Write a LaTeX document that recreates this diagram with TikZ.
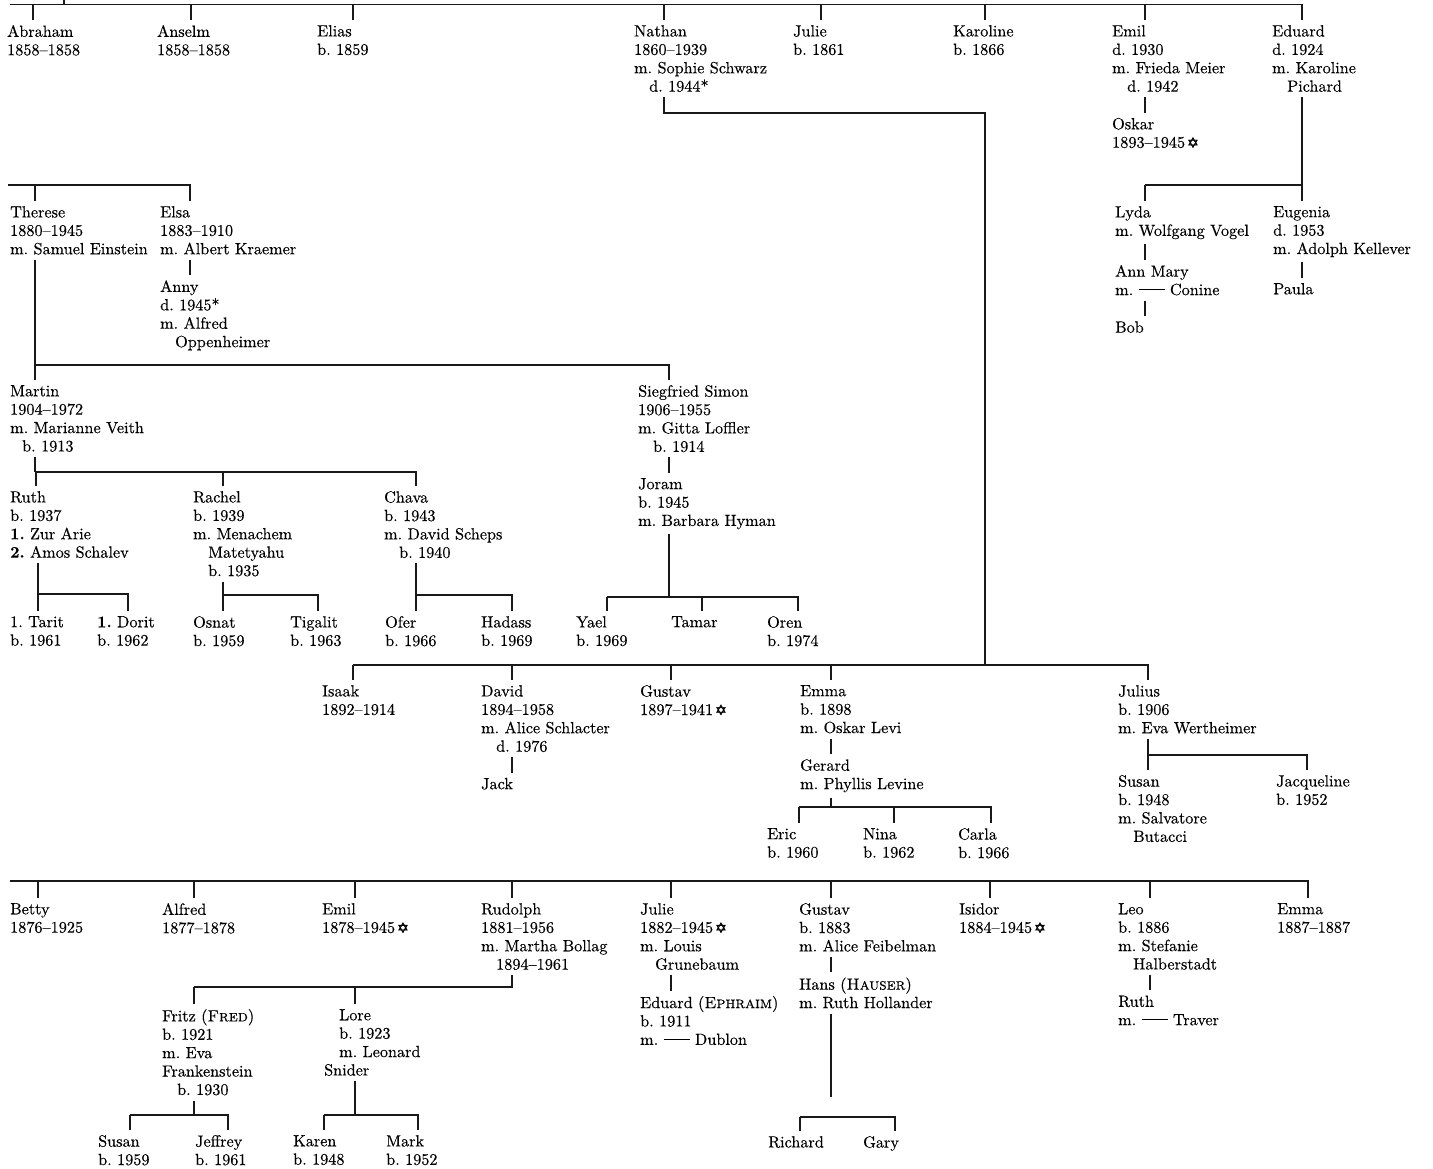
\documentclass[tikz,border=0pt]{standalone}
\usepackage{fontspec}
\setmainfont{lmroman10-regular.otf}[BoldFont=lmroman10-bold.otf, SmallCapsFont=lmromancaps10-regular.otf, Ligatures=TeX, FakeBold=0.3]
\newfontfamily\symfont{DejaVu Sans}[FakeBold=1.5]
\usetikzlibrary{positioning}
\tikzstyle{person} = [anchor=north west, align=left, inner xsep=0pt, inner ysep=5pt, text=black, font=\fontsize{16.2}{18.4}\selectfont\frenchspacing]
\tikzstyle{connector} = [draw, line width=1.1pt, black!90]
\newcommand{\ind}{\hspace*{15pt}}
\newcommand{\blank}{\rule[5pt]{26pt}{0.8pt}}
\newcommand{\magen}{\hspace{2pt}{\symfont\fontsize{14}{14}\selectfont ✡}}

\begin{document}
\begin{tikzpicture}[x=1pt, y=-1pt, node distance=15.5pt and 0pt]
      \fill [white] (0,0) rectangle (1433,1169);
      \useasboundingbox (0,0) rectangle (1433,1169);

      % Define nodes using coordinates and positioning
      \node (abraham) [person] at (7,20) {Abraham\\1858--1858};
      \node (anselm) [person] at (157,20) {Anselm\\1858--1858};
      \node (elias) [person] at (317,20) {Elias\\b. 1859};
      \node (nathan) [person] at (634,20) {Nathan\\1860--1939\\m. Sophie Schwarz\\\ind d. 1944*};
      \node (julie) [person] at (793,20) {Julie\\b. 1861};
      \node (karoline) [person] at (953,20) {Karoline\\b. 1866};
      \node (emil) [person] at (1112,20) {Emil\\d. 1930\\m. Frieda Meier\\\ind d. 1942};
      \node (eduard) [person] at (1272,20) {Eduard\\d. 1924\\m. Karoline\\\ind Pichard};
      \node (oskar) [person, below right=of emil.south west] {Oskar\\1893--1945\magen};

      \node (lyda) [person] at (1115,201) {Lyda\\m. Wolfgang Vogel};
      \node (eugenia) [person] at (1273,201) {Eugenia\\d. 1953\\m. Adolph Kellever};
      \node (ann_mary) [person, below right=of lyda.south west] {Ann Mary\\m. \blank{} Conine};
      \node (bob) [person, below right=of ann_mary.south west] {Bob};
      \node (paula) [person, below right=of eugenia.south west] {Paula};

      \node (therese) [person] at (10,201) {Therese\\1880--1945\\m. Samuel Einstein};
      \node (elsa) [person] at (160,201) {Elsa\\1883--1910\\m. Albert Kraemer};
      \node (anny) [person, below right=of elsa.south west] {Anny\\d. 1945*\\m. Alfred\\\ind Oppenheimer};

      \node (martin) [person] at (10,380) {Martin\\1904--1972\\m. Marianne Veith\\\hspace*{12pt}b. 1913};
      \node (siegfried) [person] at (638,380) {Siegfried Simon\\1906--1955\\m. Gitta Loffler\\\ind b. 1914};
      \node (joram) [person, below right=of siegfried.south west] {Joram\\b. 1945\\m. Barbara Hyman};

      \node (ruth) [person] at (10,486) {Ruth\\b. 1937\\\textbf{1.} Zur Arie\\\textbf{2.} Amos Schalev};
      \node (rachel) [person] at (193,486) {Rachel\\b. 1939\\m. Menachem\\\ind Matetyahu\\\ind b. 1935};
      \node (chava) [person] at (384,486) {Chava\\b. 1943\\m. David Scheps\\\ind b. 1940};

      \node (tarit) [person] at (10,611) {1. Tarit\\b. 1961};
      \node (dorit) [person] at (97,611) {\textbf{1.} Dorit\\b. 1962};
      \node (osnat) [person] at (193,611) {Osnat\\b. 1959};
      \node (tigalit) [person] at (290,611) {Tigalit\\b. 1963};
      \node (ofer) [person] at (385,611) {Ofer\\b. 1966};
      \node (hadass) [person] at (481,611) {Hadass\\b. 1969};
      \node (yael) [person] at (576,611) {Yael\\b. 1969};
      \node (tamar) [person] at (671,611) {Tamar};
      \node (oren) [person] at (767,611) {Oren\\b. 1974};

      \node (isaak) [person] at (322,680) {Isaak\\1892--1914};
      \node (david) [person] at (481,680) {David\\1894--1958\\m. Alice Schlacter\\\ind d. 1976};
      \node (gustav) [person] at (640,680) {Gustav\\1897--1941\magen};
      \node (emma) [person] at (800,680) {Emma\\b. 1898\\m. Oskar Levi};
      \node (julius) [person] at (1118,680) {Julius\\b. 1906\\m. Eva Wertheimer};
      \node (jack) [person, below right=of david.south west] {Jack};
      \node (gerard) [person, below right=of emma.south west] {Gerard\\m. Phyllis Levine};
      \node (eric) [person] at (767,823) {Eric\\b. 1960};
      \node (nina) [person] at (863,823) {Nina\\b. 1962};
      \node (carla) [person] at (958,823) {Carla\\b. 1966};
      \node (susan) [person] at (1118,770) {Susan\\b. 1948\\m. Salvatore\\\ind Butacci};
      \node (jacqueline) [person] at (1276,770) {Jacqueline\\b. 1952};

      \node (betty) [person] at (10,898) {Betty\\1876--1925};
      \node (alfred) [person] at (162,898) {Alfred\\1877--1878};
      \node (emil_b) [person] at (322,898) {Emil\\1878--1945\magen};
      \node (rudolph) [person] at (481,898) {Rudolph\\1881--1956\\m. Martha Bollag\\\ind 1894--1961};
      \node (julie_b) [person] at (640,898) {Julie\\1882--1945\magen\\m. Louis\\\ind Grunebaum};
      \node (gustav_b) [person] at (799,898) {Gustav\\b. 1883\\m. Alice Feibelman};
      \node (isidor) [person] at (959,898) {Isidor\\1884--1945\magen};
      \node (leo) [person] at (1118,898) {Leo\\b. 1886\\m. Stefanie\\\ind Halberstadt};
      \node (emma_b) [person] at (1277,898) {Emma\\1887--1887};
      \node (eduard_b) [person, below right=of julie_b.south west] {Eduard (\textsc{Ephraim})\\b. 1911\\m. \blank{} Dublon};
      \node (hans) [person, below right=of gustav_b.south west] {Hans (\textsc{Hauser})\\m. Ruth Hollander};
      \node (ruth_b) [person, below right=of leo.south west] {Ruth\\m. \blank{} Traver};

      \node (fritz) [person] at (162,1004) {Fritz (\textsc{Fred})\\b. 1921\\m. Eva\\Frankenstein\\\ind b. 1930};
      \node (lore) [person] at (324,1004) {\ind Lore\\\ind b. 1923\\\ind m. Leonard\\Snider};
      \node (susan_b) [person] at (98,1130) {Susan\\b. 1959};
      \node (jeffrey) [person] at (195,1130) {Jeffrey\\b. 1961};
      \node (karen) [person] at (293,1130) {Karen\\b. 1948};
      \node (mark) [person] at (386,1130) {Mark\\b. 1952};
      \node (richard) [person] at (768,1131) {Richard};
      \node (gary) [person] at (863,1131) {Gary};

      % Bar points
      \coordinate (gen1_up) at (64,0);
      \coordinate (gen1_bar) at (10,4.5);
      \coordinate (nathan_turn) at (985,113);
      \coordinate (isaak_bar) at (353,665);
      \coordinate (eduard_bar) at (1145,185);
      \coordinate (sisters_bar) at (8,185);
      \coordinate (therese_bar) at (35,365);
      \coordinate (martin_bar) at (35,472);
      \coordinate (ruth_bar) at (38,594);
      \coordinate (rachel_bar) at (223,595);
      \coordinate (chava_bar) at (416,595);
      \coordinate (joram_bar) at (607,597);
      \coordinate (gerard_bar) at (799,807);
      \coordinate (julius_bar) at (1148,755);
      \coordinate (gen2_bar) at (10,881);
      \coordinate (rudolph_bar) at (194,987);
      \coordinate (fritz_bar) at (130,1115);
      \coordinate (lore_bar) at (324,1115);
      \coordinate (hans_end) at (831,1097);
      \coordinate (hans_bar) at (800,1117);

      % Draw connectors
      \draw [connector] (gen1_up) |- (gen1_bar);
      \draw [connector] (gen1_bar) -| ([xshift=26pt]abraham.north west);
      \draw [connector] (gen1_bar) -| ([xshift=34pt]anselm.north west);
      \draw [connector] (gen1_bar) -| ([xshift=36pt]elias.north west);
      \draw [connector] (gen1_bar) -| ([xshift=30pt]nathan.north west);
      \draw [connector] (gen1_bar) -| ([xshift=28pt]julie.north west);
      \draw [connector] (gen1_bar) -| ([xshift=32pt]karoline.north west);
      \draw [connector] (gen1_bar) -| ([xshift=33pt]emil.north west);
      \draw [connector] (gen1_bar) -| ([xshift=30pt]eduard.north west);
      \draw [connector] ([xshift=33pt]emil.south west) -- ([xshift=33pt]oskar.north west);

      \draw [connector] ([xshift=30pt]eduard.south west) |- (eduard_bar);
      \draw [connector] (eduard_bar) -| ([xshift=30pt]lyda.north west);
      \draw [connector] (eduard_bar) -| ([xshift=29pt]eugenia.north west);
      \draw [connector] ([xshift=30pt]lyda.south west) -- ([xshift=30pt]ann_mary.north west);
      \draw [connector] ([xshift=30pt]ann_mary.south west) -- ([xshift=30pt]bob.north west);
      \draw [connector] ([xshift=29pt]eugenia.south west) -- ([xshift=29pt]paula.north west);

      \draw [connector] (sisters_bar) -| ([xshift=25pt]therese.north west);
      \draw [connector] (sisters_bar) -| ([xshift=30pt]elsa.north west);
      \draw [connector] ([xshift=30pt]elsa.south west) -- ([xshift=30pt]anny.north west);
      \draw [connector] ([xshift=25pt]therese.south west) -- ([xshift=25pt]martin.north west);
      \draw [connector] (therese_bar) -| ([xshift=31pt]siegfried.north west);
      \draw [connector] ([xshift=31pt]siegfried.south west) -- ([xshift=31pt]joram.north west);

      \draw [connector] ([xshift=25pt]martin.south west) |- (martin_bar);
      \draw [connector] (martin_bar) -| ([xshift=26pt]ruth.north west);
      \draw [connector] (martin_bar) -| ([xshift=30pt]rachel.north west);
      \draw [connector] (martin_bar) -| ([xshift=32pt]chava.north west);
      \draw [connector] ([xshift=28pt]ruth.south west) |- (ruth_bar);
      \draw [connector] (ruth_bar) -| ([xshift=28pt]tarit.north west);
      \draw [connector] (ruth_bar) -| ([xshift=31pt]dorit.north west);
      \draw [connector] ([xshift=30pt]rachel.south west) |- (rachel_bar);
      \draw [connector] (rachel_bar) -| ([xshift=30pt]osnat.north west);
      \draw [connector] (rachel_bar) -| ([xshift=28pt]tigalit.north west);
      \draw [connector] ([xshift=32pt]chava.south west) |- (chava_bar);
      \draw [connector] (chava_bar) -| ([xshift=31pt]ofer.north west);
      \draw [connector] (chava_bar) -| ([xshift=31pt]hadass.north west);
      \draw [connector] ([xshift=31pt]joram.south west) |- (joram_bar);
      \draw [connector] (joram_bar) -| ([xshift=31pt]yael.north west);
      \draw [connector] (joram_bar) -| ([xshift=31pt]tamar.north west);
      \draw [connector] (joram_bar) -| ([xshift=31pt]oren.north west);

      \draw [connector] ([xshift=30pt]nathan.south west) |- (nathan_turn) |- (isaak_bar);
      \draw [connector] (isaak_bar) -| ([xshift=31pt]isaak.north west);
      \draw [connector] (isaak_bar) -| ([xshift=31pt]david.north west);
      \draw [connector] (isaak_bar) -| ([xshift=31pt]gustav.north west);
      \draw [connector] (isaak_bar) -| ([xshift=31pt]emma.north west);
      \draw [connector] (isaak_bar) -| ([xshift=30pt]julius.north west);
      \draw [connector] ([xshift=31pt]david.south west) -- ([xshift=31pt]jack.north west);
      \draw [connector] ([xshift=31pt]emma.south west) -- ([xshift=31pt]gerard.north west);
      \draw [connector] ([xshift=31pt]gerard.south west) |- (gerard_bar);
      \draw [connector] (gerard_bar) -| ([xshift=32pt]eric.north west);
      \draw [connector] (gerard_bar) -| ([xshift=31pt]nina.north west);
      \draw [connector] (gerard_bar) -| ([xshift=33pt]carla.north west);
      \draw [connector] ([xshift=30pt]julius.south west) |- (julius_bar);
      \draw [connector] (julius_bar) -| ([xshift=30pt]susan.north west);
      \draw [connector] (julius_bar) -| ([xshift=31pt]jacqueline.north west);

      \draw [connector] (gen2_bar) -| ([xshift=28pt]betty.north west);
      \draw [connector] (gen2_bar) -| ([xshift=32pt]alfred.north west);
      \draw [connector] (gen2_bar) -| ([xshift=33pt]emil_b.north west);
      \draw [connector] (gen2_bar) -| ([xshift=31pt]rudolph.north west);
      \draw [connector] (gen2_bar) -| ([xshift=31pt]julie_b.north west);
      \draw [connector] (gen2_bar) -| ([xshift=32pt]gustav_b.north west);
      \draw [connector] (gen2_bar) -| ([xshift=31pt]isidor.north west);
      \draw [connector] (gen2_bar) -| ([xshift=32pt]leo.north west);
      \draw [connector] (gen2_bar) -| ([xshift=31pt]emma_b.north west);

      \draw [connector] ([xshift=31pt]rudolph.south west) |- (rudolph_bar);
      \draw [connector] (rudolph_bar) -| ([xshift=32pt]fritz.north west);
      \draw [connector] (rudolph_bar) -| ([xshift=31pt]lore.north west);
      \draw [connector] ([xshift=32pt]fritz.south west) |- (fritz_bar);
      \draw [connector] (fritz_bar) -| ([xshift=32pt]susan_b.north west);
      \draw [connector] (fritz_bar) -| ([xshift=33pt]jeffrey.north west);
      \draw [connector] ([xshift=31pt]lore.south west) |- (lore_bar);
      \draw [connector] (lore_bar) -| ([xshift=31pt]karen.north west);
      \draw [connector] (lore_bar) -| ([xshift=32pt]mark.north west);
      \draw [connector] ([xshift=31pt]julie_b.south west) -- ([xshift=31pt]eduard_b.north west);
      \draw [connector] ([xshift=32pt]gustav_b.south west) -- ([xshift=32pt]hans.north west);
      \draw [connector] ([xshift=32pt]hans.south west) -- (hans_end);
      \draw [connector] (hans_bar) -| ([xshift=32pt]richard.north west);
      \draw [connector] (hans_bar) -| ([xshift=32pt]gary.north west);
      \draw [connector] ([xshift=32pt]leo.south west) -- ([xshift=32pt]ruth_b.north west);
    \end{tikzpicture}
\end{document}
